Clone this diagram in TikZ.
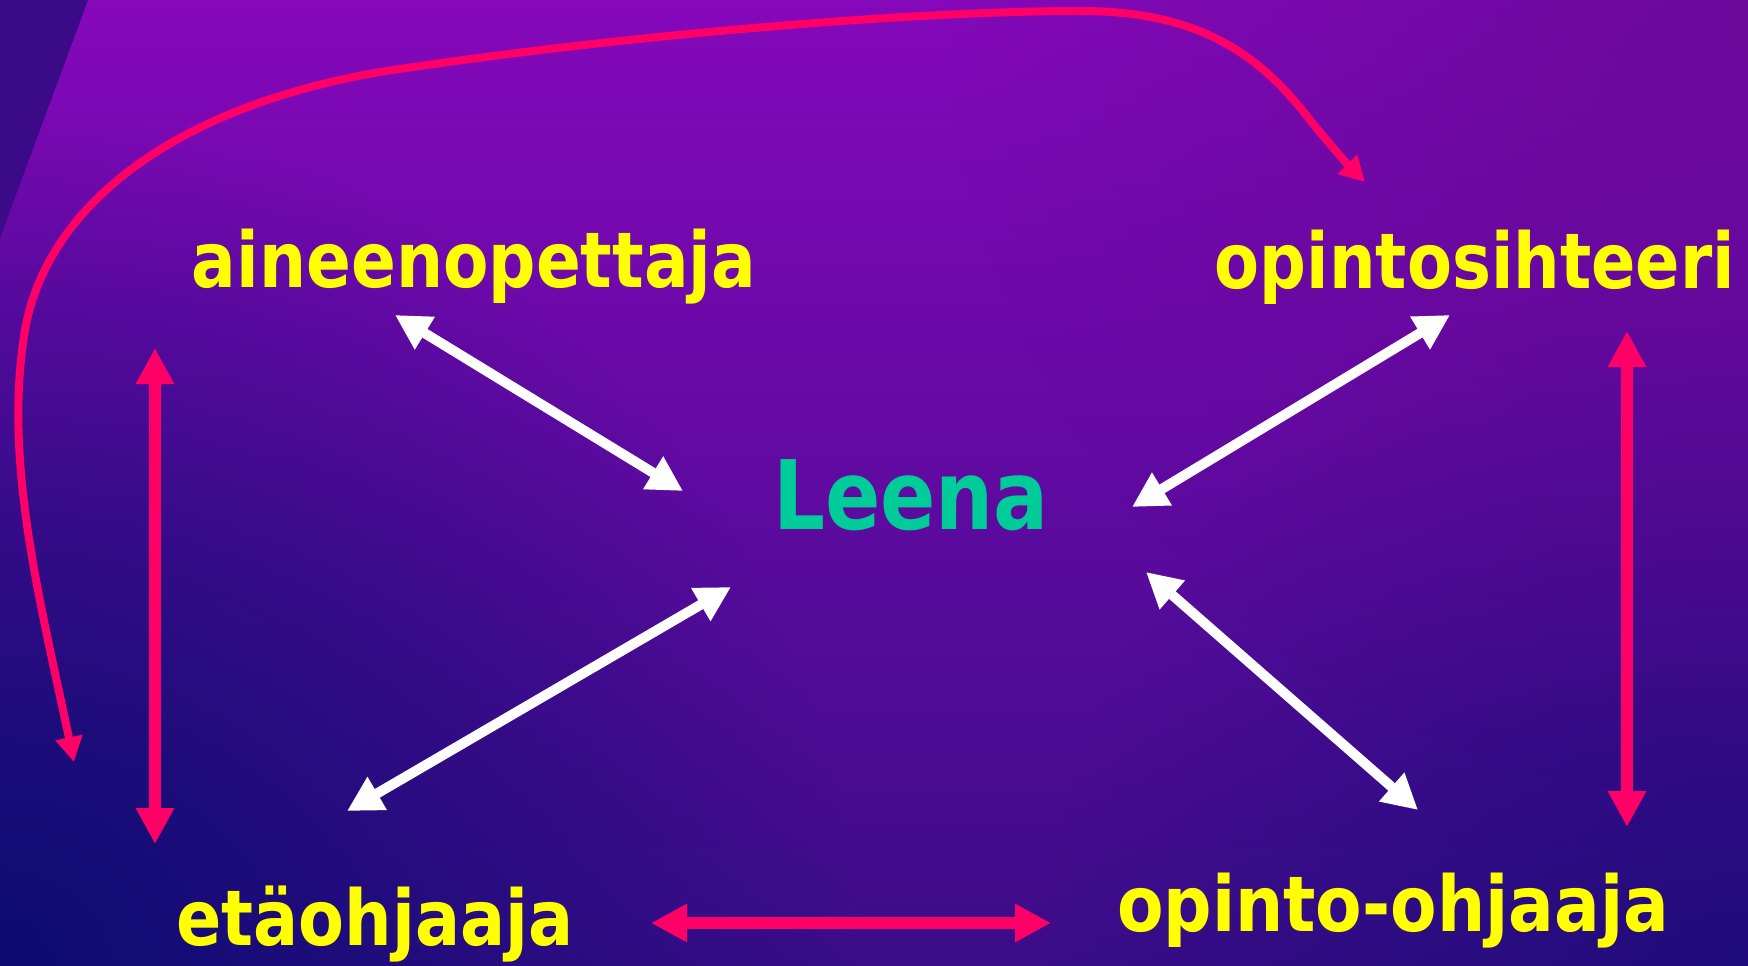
\documentclass[tikz,border=0pt]{standalone}
\usepackage{fontspec}
\setmainfont{DejaVu Sans}
\usepackage{graphicx}
\usetikzlibrary{arrows.meta,fadings}
\definecolor{bgtop}{HTML}{8508BA}
\definecolor{bgmid}{HTML}{6C0A9C}
\definecolor{bgbot}{HTML}{3A0C88}
\definecolor{bgnavy}{HTML}{0C0D72}
\definecolor{bgshade}{HTML}{5A0888}
\definecolor{bgcorner}{HTML}{3A0A88}
\definecolor{labelcol}{HTML}{FFFF00}
\definecolor{leenacol}{HTML}{00CC99}
\definecolor{pinkcol}{HTML}{FF0066}
\tikzfading[name=glowfade, inner color=transparent!0, outer color=transparent!100]

\begin{document}
\begin{tikzpicture}[x=1pt,y=-1pt,line join=miter,
  role/.style={text=labelcol,inner sep=0pt,anchor=base,font=\fontsize{77}{80}\selectfont\bfseries},
  hub/.style={text=leenacol,inner sep=0pt,anchor=base,font=\fontsize{96}{100}\selectfont\bfseries},
  whitelink/.style={draw=white,line width=10pt,arrows={Triangle[length=35pt,width=36pt]-Triangle[length=35pt,width=36pt]}},
  pinklink/.style={draw=pinkcol,line width=12pt,arrows={Triangle[length=36pt,width=36pt]-Triangle[length=36pt,width=36pt]}},
  pinkcurve/.style={draw=pinkcol,line width=8pt,arrows={Triangle[length=25pt,width=26pt]-Triangle[length=25pt,width=26pt]}},
]
%% background
\useasboundingbox (0,0) rectangle (1748,966);
\shade[top color=bgtop, middle color=bgmid, bottom color=bgbot] (0,0) rectangle (1748,966);
\begin{scope}
  \clip (0,0) rectangle (1748,966);
  \fill[bgnavy, path fading=glowfade] (0,966) circle[radius=860pt];
  \fill[bgnavy, path fading=glowfade, opacity=0.6] (1748,966) circle[radius=700pt];
  \fill[bgshade, path fading=glowfade, opacity=0.6] (1748,0) circle[radius=800pt];
\end{scope}
\fill[bgcorner] (0,0) -- (88,0) -- (0,238) -- cycle;
%%
  % Node: leena
  \node[hub] (leena) at (911,529) {\resizebox{276pt}{\height}{Leena}};
  % Node: aine
  \node[role] (aine) at (474,287) {\resizebox{564pt}{\height}{aineenopettaja}};
  % Node: siht
  \node[role] (siht) at (1475,288) {\resizebox{520pt}{\height}{opintosihteeri}};
  % Node: eta
  \node[role] (eta) at (375,945) {\resizebox{397pt}{\height}{etäohjaaja}};
  % Node: ohj
  \node[role] (ohj) at (1393,931) {\resizebox{552pt}{\height}{opinto-ohjaaja}};
%%
  \coordinate (aine-se) at (395,315);
  \coordinate (aine-sw) at (155,348);
  \coordinate (siht-sw) at (1450,315);
  \coordinate (siht-se) at (1627,331);
  \coordinate (siht-n) at (1365,182);
  \coordinate (leena-nw) at (683,491);
  \coordinate (leena-ne) at (1132,507);
  \coordinate (leena-sw) at (731,587);
  \coordinate (leena-se) at (1146,572);
  \coordinate (eta-ne) at (347,811);
  \coordinate (eta-nw) at (155,844);
  \coordinate (eta-e) at (651,923);
  \coordinate (eta-far) at (74,762);
  \coordinate (ohj-nw) at (1418,810);
  \coordinate (ohj-ne) at (1627,827);
  \coordinate (ohj-w) at (1051,923);
  % Edge: aine -> leena
  \draw[whitelink] (aine-se) -- (leena-nw);
  % Edge: siht -> leena
  \draw[whitelink] (siht-sw) -- (leena-ne);
  % Edge: leena -> eta
  \draw[whitelink] (leena-sw) -- (eta-ne);
  % Edge: leena -> ohj
  \draw[whitelink] (leena-se) -- (ohj-nw);
  % Edge: aine -> eta
  \draw[pinklink] (aine-sw) -- (eta-nw);
  % Edge: siht -> ohj
  \draw[pinklink] (siht-se) -- (ohj-ne);
  % Edge: eta -> ohj
  \draw[pinklink] (eta-e) -- (ohj-w);
  % Edge: eta -> siht
  \draw[pinkcurve] (eta-far) .. controls (40,600) and (3,460) .. (25,330)
    .. controls (45,215) and (160,110) .. (380,72)
    .. controls (600,38) and (900,11) .. (1081,11)
    .. controls (1200,11) and (1260,55) .. (1310,120)
    .. controls (1324,138) and (1350,167) .. (siht-n);
%
\end{tikzpicture}
\end{document}
